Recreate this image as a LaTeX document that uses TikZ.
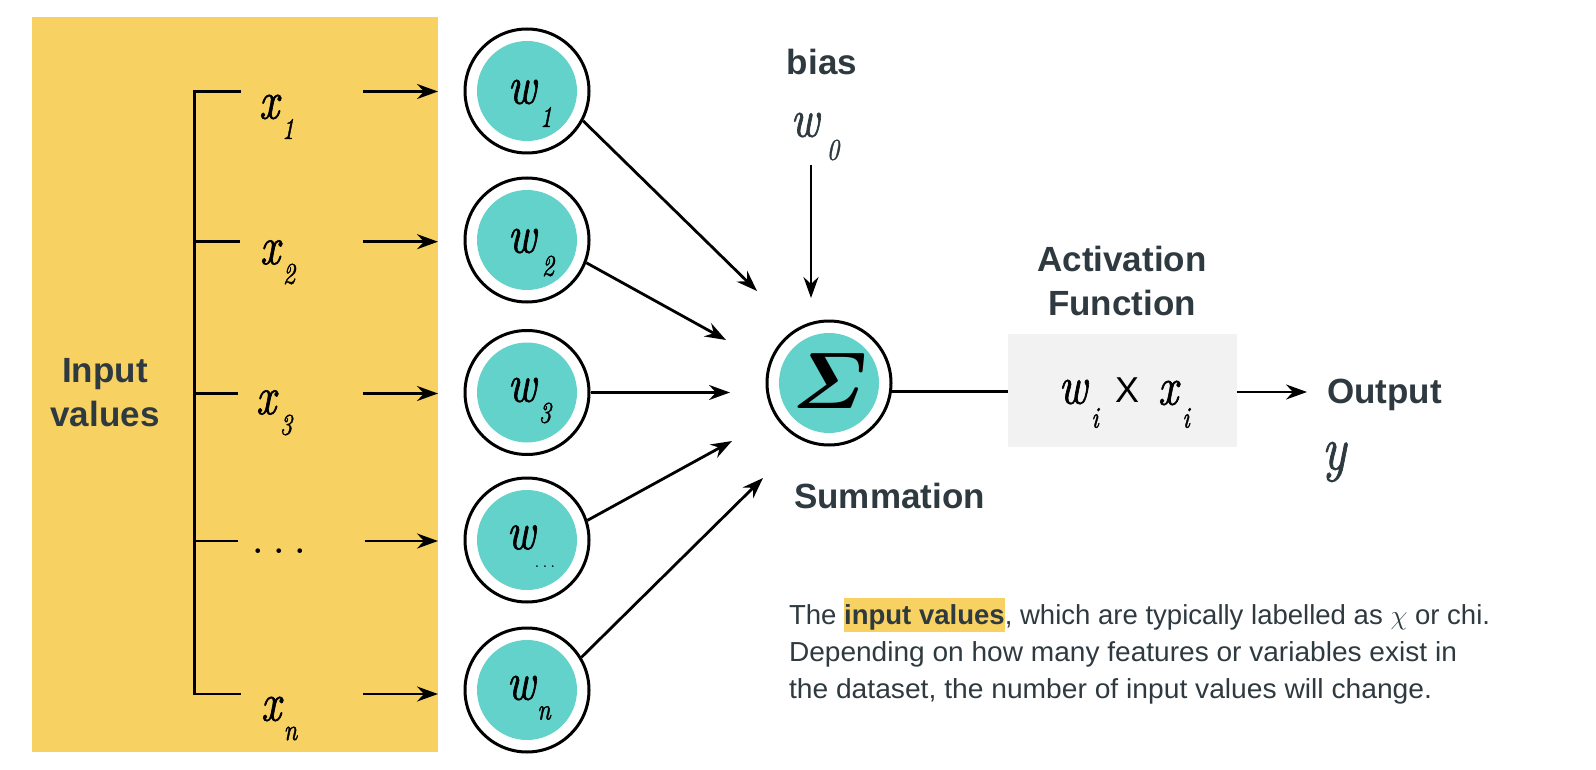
\RequirePackage{fix-cm}
\documentclass[tikz,border=0pt]{standalone}
\usepackage{amsmath}
\usepackage{graphicx}
\usepackage{fontspec}
\newfontfamily\robo{Liberation Sans}
\newfontface\wit{lmroman10-italic.otf}[FakeStretch=0.8, FakeBold=1.2]
\usetikzlibrary{arrows.meta,calc}
\definecolor{panelc}{HTML}{F7D162}
\definecolor{tealc}{HTML}{62D2CA}
\definecolor{boxgray}{HTML}{F2F2F2}
\definecolor{ink}{HTML}{2E3A40}
\newcommand\bigit[1]{{\wit\fontsize{54}{54}\selectfont #1}}
\newcommand\subit[1]{{\wit\fontsize{30}{30}\selectfont #1}}
\newcommand\hlt[1]{{\setlength{\fboxsep}{0pt}\colorbox{panelc}{\rule[-8pt]{0pt}{34pt}#1}}}
\tikzset{
  wnode/.style={circle, draw=black, line width=3pt, fill=white, minimum size=124pt, inner sep=0pt,
    path picture={\fill[tealc] (path picture bounding box.center) circle[radius=50pt];}},
  arr/.style={line width=2.8pt, -{Stealth[length=21pt,width=15pt,inset=7pt]}},
  conn/.style={line width=2.8pt},
  lbl/.style={inner sep=0pt, outer sep=0pt},
  boldlbl/.style={inner sep=0pt, outer sep=0pt, font=\robo\bfseries\fontsize{35}{44}\selectfont, text=ink},
  bodytxt/.style={inner sep=0pt, outer sep=0pt, font=\robo\fontsize{27.5}{37}\selectfont, text=ink}
}
\begin{document}
\begin{tikzpicture}[x=1pt, y=-1pt]
\useasboundingbox (0,0) rectangle (1596,770);
% yellow panel
\node[fill=panelc, minimum width=406pt, minimum height=735pt, anchor=north west, inner sep=0pt, outer sep=0pt] (panel) at (32,17) {};
\node[boldlbl, align=center] (inp) at (105,393) {Input\\values};
% bracket
\draw[conn, line join=miter] (241,91.5) -- (194.5,91.5) -- (194.5,694) -- (241,694);
\draw[conn] (194.5,241.7) -- (240,241.7);
\draw[conn] (194.5,393.5) -- (238,393.5);
\draw[conn] (194.5,541) -- (238,541);
% x labels
\node[lbl] (x1) at (269,107) {\bigit{x}};
\node[lbl] (x1s) at (288,129) {\subit{1}};
\node[lbl] (x2) at (270,252.5) {\bigit{x}};
\node[lbl] (x2s) at (289,274) {\subit{2}};
\node[lbl] (x3) at (266,402.5) {\bigit{x}};
\node[lbl] (x3s) at (286,425) {\subit{3}};
\node[lbl] (xd) at (279,551) {\fontsize{48}{48}\selectfont$\ldots$};
\node[lbl] (xn) at (271,709) {\bigit{x}};
\node[lbl] (xns) at (290.5,733.5) {\subit{n}};
% input arrows
\coordinate (a1) at (363,91.5);
\coordinate (a2) at (363,241.7);
\coordinate (a3) at (363,393.5);
\coordinate (ad) at (364.5,541);
\coordinate (an) at (363,694);
\foreach \a in {a1,a2,a3,ad,an} {\draw[arr] (\a) -- (\a -| panel.east);}
% weight circles
\node[wnode] (w1) at (527,91) {};
\node[wnode] (w2) at (527,240) {};
\node[wnode] (w3) at (527,392.5) {};
\node[wnode] (wd) at (527,540) {};
\node[wnode] (wn) at (527,690) {};
\node[lbl] (w1l) at (522,92) {\bigit{w}};
\node[lbl] (w1s) at (546,117) {\subit{1}};
\node[lbl] (w2l) at (522,241) {\bigit{w}};
\node[lbl] (w2s) at (548,266) {\subit{2}};
\node[lbl] (w3l) at (522,390) {\bigit{w}};
\node[lbl] (w3s) at (545,413) {\subit{3}};
\node[lbl] (wdl) at (521,537.5) {\bigit{w}};
\node[lbl] (wds) at (545,567) {\fontsize{18}{18}\selectfont$\ldots$};
\node[lbl] (wnl) at (521,688) {\bigit{w}};
\node[lbl] (wns) at (544,713) {\subit{n}};
% summation
\node[wnode] (sig) at (829,383) {};
\node[lbl] (sigl) at (830,381) {\fontsize{80}{80}\selectfont$\boldsymbol{\varSigma}$};
\node[boldlbl, anchor=base] (sum) at (889.5,508) {Summation};
% weight connectors
\coordinate (t1) at (757,291);
\coordinate (t2) at (726,340);
\coordinate (t3) at (730,392.5);
\coordinate (td) at (732,441);
\coordinate (tn) at (763,478);
\draw[arr] (w1.-28) -- (t1);
\draw[arr] (w2.-21) -- (t2);
\draw[arr] (w3.0) -- (t3);
\draw[arr] (wd.18) -- (td);
\draw[arr] (wn.31) -- (tn);
% bias
\node[boldlbl, anchor=base] (bias) at (822,75) {bias};
\node[lbl, text=ink] (w0) at (805,125) {\bigit{w}};
\node[lbl, text=ink] (w0s) at (833,150) {\subit{0}};
\coordinate (b0) at (811,165);
\coordinate (bt) at (811,298);
\draw[arr] (b0) -- (bt);
% activation
\node[fill=boxgray, minimum width=229pt, minimum height=113pt, inner sep=0pt, outer sep=0pt] (act) at (1122.5,390.5) {};
\node[boldlbl, align=center] (actl) at (1122,281) {Activation\\Function};
\draw[conn] (sig.-8) -- (sig.-8 -| act.west);
\node[lbl] (awl) at (1073,392) {\bigit{w}};
\node[lbl] (aws) at (1095,418) {\subit{i}};
\node[lbl, font=\robo\fontsize{36}{36}\selectfont] (times) at (1127,390) {X};
\node[lbl] (axl) at (1168,393) {\bigit{x}};
\node[lbl] (axs) at (1186,418) {\subit{i}};
% output
\coordinate (ot) at (1307,392);
\draw[arr] (act.east |- ot) -- (ot);
\node[boldlbl, anchor=base west] (out) at (1327,403) {Output};
\node[lbl, text=ink] (yv) at (1334,462) {{\wit\fontsize{62}{62}\selectfont y}};
% description
\node[bodytxt, anchor=base west] (l1) at (789,624) {\resizebox{701pt}{\height}{The \hlt{\textbf{input values}}, which are typically labelled as $\chi$ or chi.}};
\node[bodytxt, anchor=base west] (l2) at (789,661) {\resizebox{668pt}{\height}{Depending on how many features or variables exist in}};
\node[bodytxt, anchor=base west] (l3) at (789,698) {\resizebox{643pt}{\height}{the dataset, the number of input values will change.}};
\end{tikzpicture}
\end{document}
